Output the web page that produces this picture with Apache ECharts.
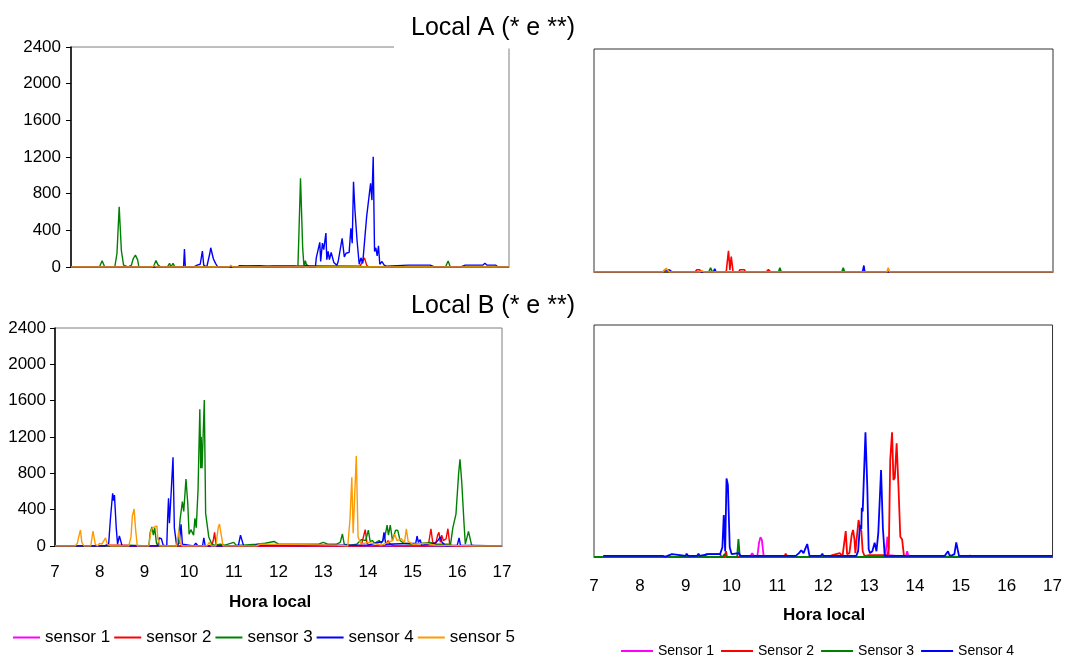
<!DOCTYPE html>
<html>
<head>
<meta charset="utf-8">
<script src="https://cdn.jsdelivr.net/npm/echarts@6/dist/echarts.min.js"></script>
<style>
html,body{margin:0;padding:0;background:#fff;}
#chart{width:1065px;height:658px;}
</style>
</head>
<body>
<div id="chart"></div>
<script>
// ---- Data: [hora local, valor] ----
const panelTitles = ['Local A (* e **)', 'Local B (* e **)'];
const axisTitle = 'Hora local';
const leftNames = ['sensor 1', 'sensor 2', 'sensor 3', 'sensor 4', 'sensor 5'];
const rightNames = ['Sensor 1', 'Sensor 2', 'Sensor 3', 'Sensor 4'];
const hourRange = [7, 17];
const valueRange = [0, 2400];
const valueStep = 400;

// Local A, left panel
const aL_s1 = [[7,0],[10.8,0],[10.9,15],[12.0,15],[12.1,0],[17,0]];
const aL_s2 = [[7,0],[11.8,0],[11.9,10],[12.5,15],[13.0,10],[13.6,10],[13.7,100],[13.75,20],[13.8,0],[17,0]];
const aL_s3 = [[7,0],[7.65,0],[7.71,69],[7.77,0],[8.0,0],[8.05,150],[8.10,657],[8.15,180],[8.2,20],[8.3,0],[8.38,20],[8.42,90],[8.45,70],[8.47,130],[8.52,80],[8.55,0],[8.88,0],[8.94,70],[8.99,20],[9.05,0],[9.2,0],[9.25,40],[9.28,0],[9.33,40],[9.37,0],[11.5,0],[11.6,15],[12.1,15],[12.18,0],[12.2,300],[12.24,967],[12.29,200],[12.32,0],[12.35,70],[12.39,0],[13.0,10],[13.5,5],[14.0,0],[15.55,0],[15.61,65],[15.66,0],[17,0]];
const aL_s4 = [[7,0],[9.4,0],[9.42,20],[9.45,0],[9.57,0],[9.59,196],[9.61,0],[9.8,0],[9.82,20],[9.88,20],[9.9,0],[9.95,30],[10.0,174],[10.03,20],[10.1,0],[10.17,150],[10.19,210],[10.25,90],[10.3,40],[10.35,0],[10.8,0],[10.85,15],[11.0,10],[11.3,15],[11.5,0],[12.3,0],[12.4,20],[12.45,0],[12.58,0],[12.6,100],[12.64,100],[12.68,269],[12.7,60],[12.74,260],[12.77,190],[12.82,370],[12.84,80],[12.87,170],[12.9,80],[12.94,160],[12.97,165],[13.0,50],[13.07,20],[13.1,60],[13.19,313],[13.24,110],[13.28,150],[13.31,140],[13.35,160],[13.39,422],[13.42,260],[13.45,930],[13.48,640],[13.5,640],[13.53,295],[13.58,30],[13.62,100],[13.66,40],[13.75,550],[13.84,912],[13.87,730],[13.9,1203],[13.93,170],[13.96,210],[13.99,120],[14.02,230],[14.05,30],[14.1,60],[14.15,20],[14.2,10],[14.7,20],[15.2,20],[15.3,0],[15.9,0],[16.0,20],[16.4,20],[16.45,40],[16.5,20],[16.7,20],[16.75,0],[17,0]];
const aL_s5 = [[7,0],[8.85,0],[8.9,20],[8.95,0],[10.6,0],[10.65,20],[10.7,0],[17,0]];

// Local A, right panel
const aR_s1 = [[7,0],[17,0]];
const aR_s2 = [[7,0],[9.2,0],[9.24,25],[9.3,25],[9.34,0],[9.88,0],[9.93,229],[9.96,20],[9.99,165],[10.03,0],[10.15,0],[10.18,25],[10.28,25],[10.3,0],[10.75,0],[10.8,25],[10.85,0],[12.35,0],[12.38,20],[12.4,0],[17,0]];
const aR_s3 = [[7,0],[9.5,0],[9.54,45],[9.58,0],[11.02,0],[11.05,45],[11.08,0],[11.72,0],[11.74,20],[11.76,0],[12.4,0],[12.43,45],[12.46,0],[17,0]];
const aR_s4 = [[7,0],[8.5,0],[8.55,25],[8.65,20],[8.7,0],[9.6,0],[9.63,35],[9.66,0],[12.85,0],[12.88,70],[12.9,0],[17,0]];
const aR_s5 = [[7,0],[8.5,0],[8.57,40],[8.65,0],[9.3,0],[9.35,15],[9.4,0],[13.38,0],[13.41,45],[13.44,0],[17,0]];

// Local B, left panel
const bL_s1 = [[7,0],[17,0]];
const bL_s2 = [[7,0],[8.1,0],[8.2,8],[8.6,8],[8.7,0],[10.5,0],[10.54,60],[10.57,150],[10.6,20],[10.65,0],[13.85,0],[13.9,100],[13.94,180],[13.98,30],[14.05,0],[14.4,10],[14.45,60],[14.5,20],[14.6,0],[15.35,0],[15.41,190],[15.45,40],[15.52,30],[15.56,120],[15.59,150],[15.62,40],[15.65,120],[15.69,60],[15.75,80],[15.79,190],[15.83,20],[15.9,0],[17,0]];
const bL_s3 = [[7,0],[8.6,0],[8.65,10],[9.1,0],[9.13,150],[9.17,210],[9.2,120],[9.23,200],[9.27,30],[9.3,0],[9.75,0],[9.8,300],[9.85,488],[9.88,380],[9.93,738],[9.97,470],[10.0,130],[10.04,180],[10.08,190],[10.1,120],[10.13,305],[10.16,200],[10.2,616],[10.24,1505],[10.26,855],[10.27,1203],[10.29,855],[10.34,1607],[10.37,360],[10.4,350],[10.44,100],[10.5,30],[10.55,10],[10.7,20],[10.8,10],[11.0,40],[11.05,10],[11.2,10],[11.5,20],[11.7,30],[11.9,50],[12.0,20],[12.5,20],[12.9,20],[13.0,40],[13.1,20],[13.3,20],[13.38,40],[13.43,132],[13.47,20],[13.6,10],[13.75,20],[13.85,70],[13.95,60],[14.01,175],[14.05,50],[14.1,60],[14.15,30],[14.25,60],[14.3,30],[14.38,100],[14.43,231],[14.46,120],[14.5,231],[14.55,60],[14.62,175],[14.67,170],[14.72,60],[14.8,30],[15.0,20],[15.4,40],[15.5,20],[15.85,20],[15.9,200],[15.97,350],[16.03,800],[16.06,955],[16.1,700],[16.15,250],[16.18,20],[16.22,100],[16.25,160],[16.28,150],[16.32,10],[16.4,0],[17,0]];
const bL_s4 = [[7,0],[8.1,0],[8.2,20],[8.24,300],[8.27,470],[8.29,580],[8.31,500],[8.33,560],[8.37,200],[8.4,20],[8.44,110],[8.48,40],[8.5,0],[9.3,0],[9.33,90],[9.38,80],[9.42,10],[9.5,0],[9.52,300],[9.54,525],[9.56,250],[9.6,600],[9.64,977],[9.67,200],[9.72,10],[9.78,30],[9.82,240],[9.85,20],[10.1,0],[10.15,30],[10.2,0],[10.3,0],[10.33,90],[10.36,0],[11.1,0],[11.15,120],[11.19,140],[11.22,0],[11.4,0],[11.5,10],[12.0,10],[12.5,5],[13.0,10],[14.0,10],[14.33,50],[14.36,150],[14.4,20],[15.07,30],[15.1,110],[15.13,40],[15.17,70],[15.2,10],[15.5,30],[15.58,70],[15.62,100],[15.66,40],[15.75,0],[16.0,10],[16.04,90],[16.07,10],[17,0]];
const bL_s5 = [[7,0],[7.45,0],[7.5,30],[7.53,100],[7.57,176],[7.6,40],[7.65,0],[7.8,0],[7.85,165],[7.9,20],[7.95,0],[8.0,30],[8.05,20],[8.13,90],[8.17,20],[8.25,0],[8.65,0],[8.7,100],[8.73,330],[8.77,407],[8.8,200],[8.84,0],[9.1,0],[9.14,150],[9.18,200],[9.22,220],[9.28,220],[9.3,80],[9.35,0],[9.72,0],[9.77,170],[9.8,30],[9.85,0],[10.4,0],[10.45,40],[10.5,0],[10.6,0],[10.65,200],[10.68,242],[10.72,120],[10.76,0],[11.5,0],[11.6,20],[12.5,15],[13.3,10],[13.55,0],[13.6,300],[13.64,756],[13.67,140],[13.7,500],[13.74,990],[13.78,100],[13.85,20],[14.0,40],[14.3,10],[14.55,60],[14.6,130],[14.65,60],[14.75,80],[14.82,40],[14.86,190],[14.9,50],[15.0,20],[15.3,30],[15.5,10],[16.5,0],[17,0]];

// Local B, right panel
const bR_s1 = [[7,0],[10.4,0],[10.45,40],[10.5,0],[10.56,0],[10.6,150],[10.63,204],[10.66,180],[10.7,10],[10.75,0],[13.35,0],[13.4,210],[13.43,20],[13.45,0],[13.8,0],[13.83,60],[13.86,0],[17,0]];
const bR_s2 = [[7,0],[9.4,0],[9.45,30],[9.75,30],[9.78,0],[9.85,0],[9.88,60],[9.9,0],[11.15,0],[11.18,35],[11.22,0],[12.1,0],[12.2,20],[12.36,40],[12.42,10],[12.49,269],[12.52,30],[12.57,40],[12.62,230],[12.65,280],[12.68,180],[12.7,40],[12.72,150],[12.77,383],[12.8,300],[12.83,270],[12.86,60],[12.9,10],[13.0,20],[13.4,20],[13.43,90],[13.46,1003],[13.5,1289],[13.53,796],[13.56,820],[13.6,1176],[13.64,727],[13.68,210],[13.72,180],[13.76,10],[13.8,0],[15.15,0],[15.2,15],[15.3,0],[17,0]];
const bR_s3 = [[7,0],[9.8,0],[9.85,30],[9.9,0],[10.12,0],[10.15,186],[10.18,0],[17,0]];
const bR_s4 = [[7.2,12],[8.5,12],[8.55,5],[8.6,12],[8.63,30],[8.7,30],[8.73,12],[9.0,12],[9.02,35],[9.05,12],[9.25,12],[9.28,35],[9.3,12],[9.5,30],[9.75,30],[9.8,100],[9.83,434],[9.86,60],[9.89,813],[9.92,745],[9.96,100],[10.0,30],[10.15,40],[10.2,12],[11.4,12],[11.47,40],[11.52,70],[11.57,40],[11.62,100],[11.65,134],[11.7,12],[11.95,12],[11.98,35],[12.0,12],[12.72,12],[12.76,60],[12.8,331],[12.83,290],[12.84,510],[12.86,470],[12.92,1289],[12.96,727],[12.99,80],[13.02,40],[13.07,60],[13.12,148],[13.16,60],[13.2,250],[13.26,900],[13.3,300],[13.34,12],[14.3,12],[14.33,30],[14.36,12],[14.65,12],[14.72,60],[14.75,20],[14.8,15],[14.86,30],[14.9,152],[14.93,80],[14.96,12],[17,12]];

const colors = ['#FF00FF', '#FF0000', '#008000', '#0000FF', '#FF9900'];

// ---- Build option ----
const FONT = 'Liberation Sans, Arial, sans-serif';
const grids = [
  {left: 71, top: 47, width: 438, height: 220, show: true, borderColor: '#7f7f7f', borderWidth: 1},
  {left: 594, top: 49, width: 459, height: 223, show: true, borderColor: '#333', borderWidth: 1},
  {left: 55, top: 328, width: 447, height: 218, show: true, borderColor: '#7f7f7f', borderWidth: 1},
  {left: 594, top: 325, width: 461, height: 232, show: true, borderColor: '#333', borderWidth: 1}
];
function xAx(gi, labels, margin, lineColor) {
  return {type: 'value', gridIndex: gi, min: hourRange[0], max: hourRange[1], interval: 1,
    axisLine: {show: true, onZero: false, lineStyle: {color: lineColor, width: 1}},
    axisTick: {show: false}, splitLine: {show: false},
    axisLabel: {show: labels, margin: margin, fontSize: 17, color: '#000', fontFamily: FONT, showMinLabel: true, showMaxLabel: true,
      formatter: v => String(v)}};
}
function yAx(gi, labels, margin) {
  return {type: 'value', gridIndex: gi, min: valueRange[0], max: valueRange[1], interval: valueStep,
    axisLine: {show: labels, lineStyle: {color: '#000', width: 1.5}},
    axisTick: {show: labels, length: 5, lineStyle: {color: '#000'}}, splitLine: {show: false},
    axisLabel: {show: labels, margin: margin, fontSize: 17, color: '#000', fontFamily: FONT,
      formatter: v => String(v)}};
}
const panels = [
  {gi: 0, names: leftNames, data: [aL_s1, aL_s2, aL_s3, aL_s4, aL_s5], w: 1.4},
  {gi: 1, names: rightNames.concat(['Sensor 5']), data: [aR_s1, aR_s2, aR_s3, aR_s4, aR_s5], w: 1.6},
  {gi: 2, names: leftNames, data: [bL_s1, bL_s2, bL_s3, bL_s4, bL_s5], w: 1.4},
  {gi: 3, names: rightNames, data: [bR_s1, bR_s2, bR_s3, bR_s4], w: 1.8}
];
const series = [];
panels.forEach(p => {
  p.data.forEach((d, i) => {
    series.push({type: 'line', name: p.names[i], xAxisIndex: p.gi, yAxisIndex: p.gi, data: d,
      showSymbol: false, symbol: 'none', color: colors[i],
      lineStyle: {color: colors[i], width: p.w}, itemStyle: {color: colors[i]}, animation: false});
  });
});
const option = {
  backgroundColor: '#fff',
  animation: false,
  grid: grids,
  xAxis: [xAx(0, false, 0, '#7f7f7f'), xAx(1, false, 0, '#333'), xAx(2, true, 18, '#333'), xAx(3, true, 21, '#333')],
  yAxis: [yAx(0, true, 10), yAx(1, false, 0), yAx(2, true, 9), yAx(3, false, 0)],
  title: [
    {text: panelTitles[0], left: 411, top: 16, padding: 0, z: 200, textStyle: {fontSize: 25, fontWeight: 'normal', color: '#000', fontFamily: FONT}},
    {text: panelTitles[1], left: 411, top: 294, padding: 0, textStyle: {fontSize: 25, fontWeight: 'normal', color: '#000', fontFamily: FONT}},
    {text: axisTitle, left: 229, top: 594, padding: 0, textStyle: {fontSize: 17, fontWeight: 'bold', color: '#000', fontFamily: FONT}},
    {text: axisTitle, left: 783, top: 607, padding: 0, textStyle: {fontSize: 17, fontWeight: 'bold', color: '#000', fontFamily: FONT}}
  ],
  legend: [
    {data: leftNames, left: 13, top: 629, padding: 0, icon: 'rect', itemWidth: 27, itemHeight: 2, itemGap: 4,
      textStyle: {fontSize: 17, color: '#000', fontFamily: FONT}},
    {data: rightNames, left: 621, top: 644, padding: 0, icon: 'rect', itemWidth: 32, itemHeight: 2, itemGap: 7,
      textStyle: {fontSize: 14, color: '#000', fontFamily: FONT}}
  ],
  graphic: [
    {type: 'rect', shape: {x: 394, y: 43, width: 125, height: 5.5}, style: {fill: '#fff'}, z: 100}
  ],
  series: series
};
const chart = echarts.init(document.getElementById('chart'), null, {renderer: 'canvas'});
chart.setOption(option);
</script>
</body>
</html>
